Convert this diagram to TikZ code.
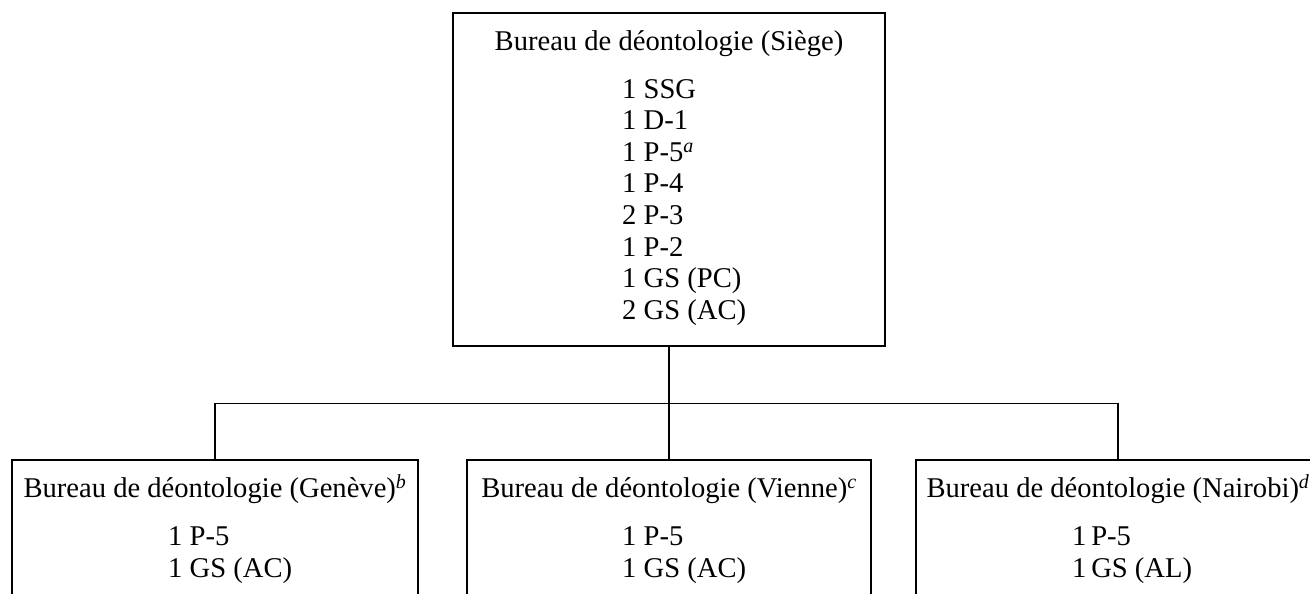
\documentclass[tikz,border=0pt]{standalone}
\usepackage{fontspec}
\setmainfont{Liberation Serif}
\usetikzlibrary{positioning}

\begin{document}
\begin{tikzpicture}[
  x=1pt, y=-1pt,
  office/.style={draw, line width=1.4pt, inner sep=0pt, minimum height=200pt},
  head/.style={font=\fontsize{28.6}{31.6}\selectfont, inner sep=0pt, anchor=base},
  staff/.style={font=\fontsize{28.6}{31.6}\selectfont, inner sep=0pt,
                align=left, anchor=base west},
  link/.style={line width=1.4pt}
]
\useasboundingbox (0,0) rectangle (1310,594);
\clip (0,0) rectangle (1310,594);

%
%  Layout:
%
%  top    :              [Siège]
%  bottom :  [Genève]    [Vienne]    [Nairobi]
%
%  (staff lists are placed by the baseline of their last line)

% --- Siège ---
\node[office, minimum width=432pt, minimum height=333pt] (siege) at (669,179.5) {};
\node[head] (siege_t) at ([yshift=-38pt]siege.north) {Bureau de déontologie (Siège)};
\node[staff] (siege_l) at ([xshift=-47pt, yshift=-307pt]siege.north)
  {1 SSG\\1 D-1\\1 P-5\textsuperscript{\itshape a}\\1 P-4\\2 P-3\\1 P-2\\1 GS (PC)\\2 GS (AC)};

% --- Genève ---
\node[office, minimum width=406pt] (geneve) at (215,560) {};
\node[head] (geneve_t) at ([yshift=-38pt]geneve.north)
  {Bureau de déontologie (Genève)\textsuperscript{\itshape b}};
\node[staff] (geneve_l) at ([xshift=-47pt, yshift=-118pt]geneve.north) {1 P-5\\1 GS (AC)};

% --- Vienne ---
\node[office, minimum width=404pt] (vienne) at (669,560) {};
\node[head] (vienne_t) at ([yshift=-38pt]vienne.north)
  {Bureau de déontologie (Vienne)\textsuperscript{\itshape c}};
\node[staff] (vienne_l) at ([xshift=-47pt, yshift=-118pt]vienne.north) {1 P-5\\1 GS (AC)};

% --- Nairobi ---
\node[office, minimum width=404pt] (nairobi) at (1118,560) {};
\node[head] (nairobi_t) at ([yshift=-38pt]nairobi.north)
  {Bureau de déontologie (Nairobi)\textsuperscript{\itshape d}};
\node[staff] (nairobi_l) at ([xshift=-46pt, yshift=-118pt]nairobi.north) {1\,P-5\\1\,GS (AL)};

% ---- Connections ----
\draw[link] (siege.south) -- ++(0,57) coordinate (junc);
\draw[link] (geneve.north) |- (junc) -| (nairobi.north);
\draw[link] (junc) -- (vienne.north);

\end{tikzpicture}
\end{document}
